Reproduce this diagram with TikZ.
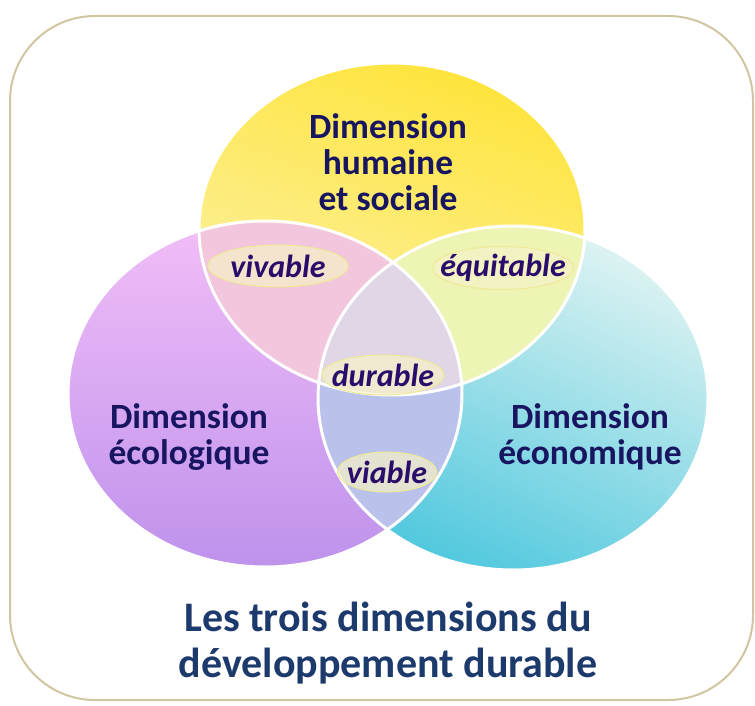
\documentclass[tikz,border=0pt]{standalone}
\usepackage{fontspec}
\setmainfont{Carlito}
\usetikzlibrary{shapes.geometric}
\definecolor{framecol}{RGB}{208,198,162}
\definecolor{dimcol}{RGB}{24,22,96}
\definecolor{tagcol}{RGB}{42,12,106}
\definecolor{titlecol}{RGB}{28,58,108}
\definecolor{tagfill}{RGB}{246,242,200}
\definecolor{tagrim}{RGB}{238,234,150}
\definecolor{socA}{RGB}{255,228,60}
\definecolor{socB}{RGB}{251,243,172}
\definecolor{ecoA}{RGB}{242,190,248}
\definecolor{ecoB}{RGB}{190,146,236}
\definecolor{econA}{RGB}{222,243,242}
\definecolor{econB}{RGB}{80,200,222}
\definecolor{vivcol}{RGB}{242,198,220}
\definecolor{equcol}{RGB}{238,244,180}
\definecolor{viacol}{RGB}{186,194,236}
\definecolor{durcol}{RGB}{224,214,230}
\tikzset{every picture/.style={x=1pt,y=-1pt}}
\tikzset{dimlabel/.style={font=\bfseries\fontsize{35.5}{36}\selectfont,text=dimcol,align=center}}
\tikzset{tag/.style={ellipse,draw=tagrim,fill=tagfill,fill opacity=.7,text opacity=1,line width=1pt,inner ysep=0pt,font=\bfseries\itshape\fontsize{32}{32}\selectfont,text=tagcol}}
\tikzset{rim/.style={draw=white,line width=3pt}}
\newcommand{\social}{(392,229) ellipse [x radius=193, y radius=166]}
\newcommand{\ecolo}{(265,394) ellipse [x radius=197, y radius=173]}
\newcommand{\econo}{(513,398) ellipse [x radius=195, y radius=172]}

\begin{document}
\begin{tikzpicture}
\useasboundingbox (0,0) rectangle (755,706);
\draw [framecol,fill=white,line width=2pt,rounded corners=85pt] (10,16) rectangle (753,700);
% the three dimensions
\shade [top color=ecoA,bottom color=ecoB] \ecolo;
\shade [top color=econA,bottom color=econB,shading angle=-25] \econo;
\shade [top color=socA,bottom color=socB,shading angle=-20] \social;
% overlaps
\begin{scope}
\clip \social;
\fill [vivcol] \ecolo;
\fill [equcol] \econo;
\end{scope}
\begin{scope}
\clip \ecolo;
\fill [viacol] \econo;
\clip \econo;
\fill [durcol] \social;
\end{scope}
\draw [rim] \social;
\draw [rim] \ecolo;
\draw [rim] \econo;
% labels
\node [dimlabel] (hum) at (388,162) {Dimension\\humaine\\et sociale};
\node [dimlabel] (eco) at (189,437) {Dimension\\écologique};
\node [dimlabel] (econ) at (590,437) {Dimension\\économique};
\node [tag,inner xsep=2pt,minimum height=42pt] (viv) at (278,266) {vivable};
\node [tag,inner xsep=-13pt,minimum height=43pt] (equ) at (503,268) {équitable};
\node [tag,inner xsep=-8pt,minimum height=40pt] (dur) at (383,375) {durable};
\node [tag,inner xsep=-5pt,minimum height=40pt] (via) at (387,472) {viable};
\node [font=\bfseries\fontsize{42}{46}\selectfont,text=titlecol,align=center] (title) at (388,643) {Les trois dimensions du\\développement durable};
\end{tikzpicture}
\end{document}
